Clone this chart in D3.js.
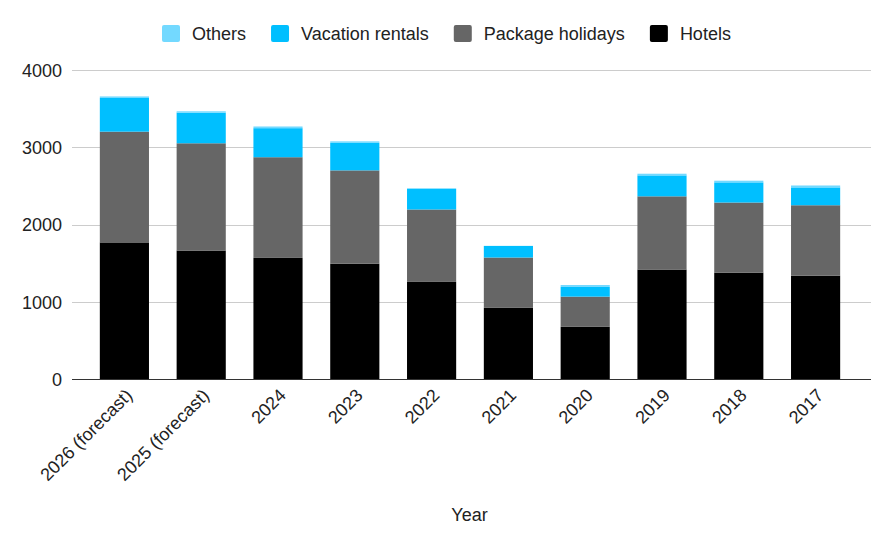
<!DOCTYPE html>
<html lang="en">
<head>
  <meta charset="UTF-8">
  <title>Travel bookings by type</title>
  <style>
    body { margin: 0; background: #fff; }
    svg text { font-family: "Liberation Sans", Arial, sans-serif; fill: #222; }
  </style>
</head>
<body>
  <svg id="svg" width="890" height="545"></svg>
  <script src="https://d3js.org/d3.v7.min.js"></script>
  <script>
    // values
    const years = ['2026 (forecast)', '2025 (forecast)', '2024', '2023', '2022', '2021', '2020', '2019', '2018', '2017']
    const hotels = [1770, 1665, 1570, 1495, 1260, 925, 680, 1420, 1380, 1340]
    const packageHolidays = [1430, 1385, 1300, 1205, 935, 650, 390, 945, 905, 910]
    const vacationRentals = [435, 395, 375, 355, 270, 150, 125, 270, 260, 230]
    const others = [20, 18, 22, 20, 0, 0, 25, 22, 22, 25]
    const yTicks = [0, 1000, 2000, 3000, 4000]

    const seriesNames = ['Hotels', 'Package holidays', 'Vacation rentals', 'Others']
    const seriesColors = ['#000000', '#666666', '#00bfff', '#73d9ff']
    const legendOrder = ['Others', 'Vacation rentals', 'Package holidays', 'Hotels']

    const rows = years.map((y, i) => ({
      year: y,
      'Hotels': hotels[i],
      'Package holidays': packageHolidays[i],
      'Vacation rentals': vacationRentals[i],
      'Others': others[i]
    }))

    const svg = d3.select('#svg')

    const gridLeft = 72
    const gridRight = 871
    const fontSize = 18

    const xscale = d3.scaleBand()
      .domain(years)
      .range([86, 854])
      .paddingInner(0.36)
      .paddingOuter(0.18)

    const yscale = d3.scaleLinear()
      .domain([0, 4000])
      .range([379.5, 69.7])

    const color = d3.scaleOrdinal().domain(seriesNames).range(seriesColors)

    // gridlines
    svg.append('g')
      .selectAll('line')
      .data(yTicks.filter(d => d > 0))
      .enter()
      .append('line')
      .attr('x1', gridLeft)
      .attr('x2', gridRight)
      .attr('y1', d => Math.round(yscale(d)) + 0.5)
      .attr('y2', d => Math.round(yscale(d)) + 0.5)
      .attr('stroke', '#cccccc')
      .attr('stroke-width', 1)

    // stacked bars
    const stacked = d3.stack().keys(seriesNames)(rows)
    svg.append('g')
      .selectAll('g')
      .data(stacked)
      .enter()
      .append('g')
      .attr('fill', d => color(d.key))
      .selectAll('rect')
      .data(d => d)
      .enter()
      .append('rect')
      .attr('x', d => xscale(d.data.year))
      .attr('width', xscale.bandwidth())
      .attr('y', d => yscale(d[1]))
      .attr('height', d => yscale(d[0]) - yscale(d[1]))

    // baseline
    svg.append('line')
      .attr('x1', gridLeft)
      .attr('x2', gridRight)
      .attr('y1', yscale(0))
      .attr('y2', yscale(0))
      .attr('stroke', '#333333')
      .attr('stroke-width', 1.2)

    // y axis labels
    const leftAxis = d3.axisLeft(yscale)
      .tickValues(yTicks)
      .tickFormat(d3.format('d'))
      .tickSize(0)
      .tickPadding(0)
    const yAxis = svg.append('g')
      .attr('transform', `translate(62, 0)`)
      .call(leftAxis)
    yAxis.select('.domain').remove()
    yAxis.selectAll('text')
      .attr('font-size', fontSize)
      .attr('dy', '0.35em')
      .style('font-family', '"Liberation Sans", Arial, sans-serif')
      .style('fill', '#222')

    // x axis labels, rotated
    const bottomAxis = d3.axisBottom(xscale).tickSize(0).tickPadding(0)
    const xAxis = svg.append('g')
      .attr('transform', `translate(0, ${yscale(0)})`)
      .call(bottomAxis)
    xAxis.select('.domain').remove()
    xAxis.selectAll('text')
      .attr('font-size', fontSize)
      .attr('text-anchor', 'end')
      .attr('dy', 0)
      .attr('transform', 'translate(9, 17) rotate(-45)')
      .style('font-family', '"Liberation Sans", Arial, sans-serif')
      .style('fill', '#222')

    // axis title
    svg.append('text')
      .attr('x', 469.5)
      .attr('y', 521)
      .attr('text-anchor', 'middle')
      .attr('font-size', fontSize)
      .text('Year')

    // legend
    const legend = svg.append('g')
    let lx = 162
    legendOrder.forEach(name => {
      legend.append('rect')
        .attr('x', lx)
        .attr('y', 25)
        .attr('width', 18)
        .attr('height', 17)
        .attr('rx', 2)
        .attr('fill', color(name))
      const t = legend.append('text')
        .attr('x', lx + 30)
        .attr('y', 40)
        .attr('font-size', fontSize)
        .text(name)
      lx += 30 + t.node().getComputedTextLength() + 25
    })
  </script>
</body>
</html>
